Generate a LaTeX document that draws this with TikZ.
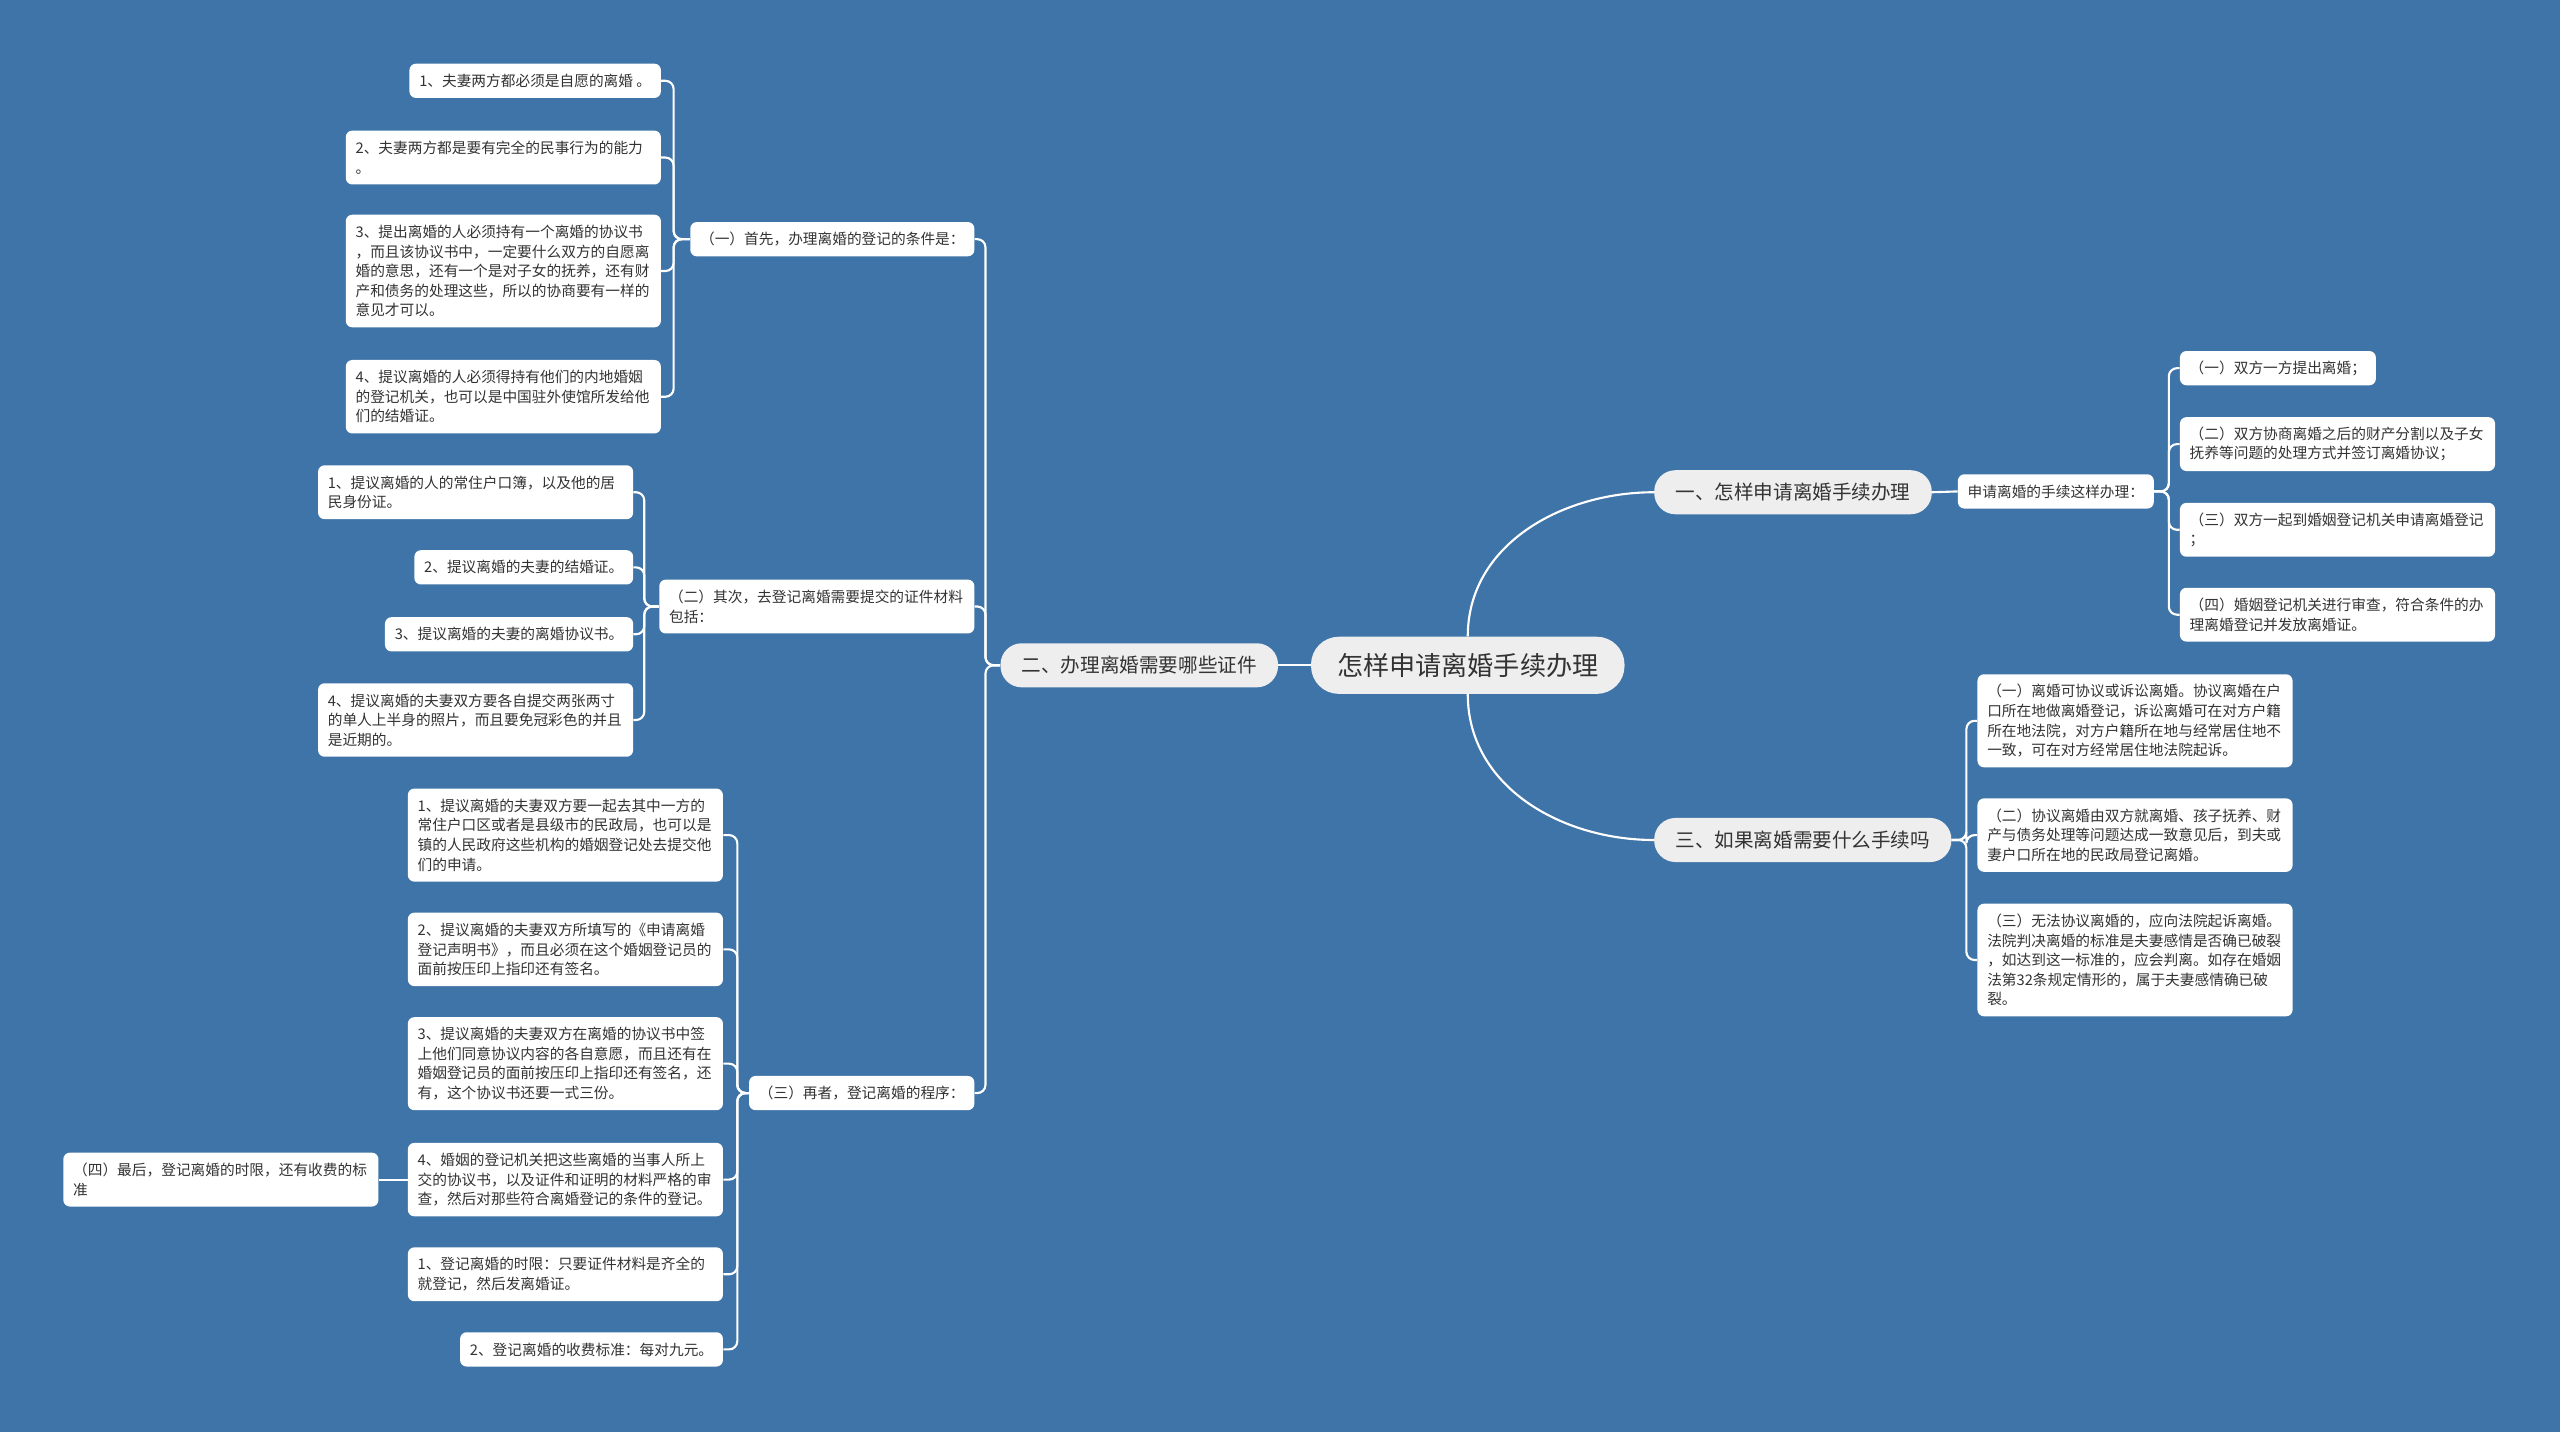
\documentclass[tikz,border=0pt]{standalone}
\usepackage{fontspec}
\setmainfont{Noto Sans CJK SC}
\usepackage{tikz}
\usetikzlibrary{positioning,calc}
\definecolor{MapBlue}{HTML}{3F74A8}
\definecolor{TopicGray}{HTML}{EEEEEE}
\definecolor{DarkText}{HTML}{333333}

\begin{document}
\begin{tikzpicture}[x=1pt,y=-1pt,
  root/.style={fill=TopicGray,rounded corners=17pt,minimum height=35pt,inner xsep=16pt,text=DarkText,font=\fontsize{16}{19}\selectfont},
  topic/.style={fill=TopicGray,rounded corners=13pt,minimum height=27pt,inner xsep=13pt,text=DarkText,font=\fontsize{12}{14}\selectfont},
  item/.style={fill=white,rounded corners=4pt,align=left,inner xsep=6pt,inner ysep=3pt,minimum height=21pt,text=DarkText,font=\fontsize{9}{12}\selectfont},
  textlines/.style={minimum height=12*#1+9,text width=181pt},
  link/.style={white,line width=1.3pt,rounded corners=5pt}
]
\fill[MapBlue] (0,0) rectangle (1568,877);
\useasboundingbox (0,0) rectangle (1568,877);

% centre and main branches
\node[root] (root) at (899,407.5) {怎样申请离婚手续办理};
\node[topic,anchor=east] (docs) at (783,407.5) {二、办理离婚需要哪些证件};
\node[topic,anchor=west] (apply) at (1013,301.5) {一、怎样申请离婚手续办理};
\node[topic,anchor=west] (need) at (1013,514.5) {三、如果离婚需要什么手续吗};

% left side
\node[item,anchor=east] (cond) at (597,146.5) {（一）首先，办理离婚的登记的条件是：};
\node[item,anchor=east,textlines=2] (mat) at (597,371.5) {（二）其次，去登记离婚需要提交的证件材料\\包括：};
\node[item,anchor=east] (proc) at (597,669.5) {（三）再者，登记离婚的程序：};

\node[item,anchor=east] (cond1) at (405,49.5) {1、夫妻两方都必须是自愿的离婚 。};
\node[item,anchor=east,textlines=2] (cond2) at (405,96.5) {2、夫妻两方都是要有完全的民事行为的能力\\。};
\node[item,anchor=east,textlines=5] (cond3) at (405,166) {3、提出离婚的人必须持有一个离婚的协议书\\，而且该协议书中，一定要什么双方的自愿离\\婚的意思，还有一个是对子女的抚养，还有财\\产和债务的处理这些，所以的协商要有一样的\\意见才可以。};
\node[item,anchor=east,textlines=3] (cond4) at (405,243) {4、提议离婚的人必须得持有他们的内地婚姻\\的登记机关，也可以是中国驻外使馆所发给他\\们的结婚证。};

\node[item,anchor=east,textlines=2] (mat1) at (388,301.5) {1、提议离婚的人的常住户口簿，以及他的居\\民身份证。};
\node[item,anchor=east] (mat2) at (388,347.5) {2、提议离婚的夫妻的结婚证。};
\node[item,anchor=east] (mat3) at (388,388.5) {3、提议离婚的夫妻的离婚协议书。};
\node[item,anchor=east,textlines=3] (mat4) at (388,441) {4、提议离婚的夫妻双方要各自提交两张两寸\\的单人上半身的照片，而且要免冠彩色的并且\\是近期的。};

\node[item,anchor=east,textlines=4] (proc1) at (443,511.5) {1、提议离婚的夫妻双方要一起去其中一方的\\常住户口区或者是县级市的民政局，也可以是\\镇的人民政府这些机构的婚姻登记处去提交他\\们的申请。};
\node[item,anchor=east,textlines=3] (proc2) at (443,581.5) {2、提议离婚的夫妻双方所填写的《申请离婚\\登记声明书》，而且必须在这个婚姻登记员的\\面前按压印上指印还有签名。};
\node[item,anchor=east,textlines=4] (proc3) at (443,651.5) {3、提议离婚的夫妻双方在离婚的协议书中签\\上他们同意协议内容的各自意愿，而且还有在\\婚姻登记员的面前按压印上指印还有签名，还\\有，这个协议书还要一式三份。};
\node[item,anchor=east,textlines=3] (proc4) at (443,722.5) {4、婚姻的登记机关把这些离婚的当事人所上\\交的协议书，以及证件和证明的材料严格的审\\查，然后对那些符合离婚登记的条件的登记。};
\node[item,anchor=east,textlines=2] (proc5) at (443,780.5) {1、登记离婚的时限：只要证件材料是齐全的\\就登记，然后发离婚证。};
\node[item,anchor=east] (proc6) at (443,826.5) {2、登记离婚的收费标准：每对九元。};
\node[item,anchor=east,textlines=2] (limit) at (232,722.5) {（四）最后，登记离婚的时限，还有收费的标\\准};

% right side
\node[item,anchor=west] (how) at (1199,301) {申请离婚的手续这样办理：};
\node[item,anchor=west] (how1) at (1335,225.5) {（一）双方一方提出离婚；};
\node[item,anchor=west,textlines=2] (how2) at (1335,272) {（二）双方协商离婚之后的财产分割以及子女\\抚养等问题的处理方式并签订离婚协议；};
\node[item,anchor=west,textlines=2] (how3) at (1335,324.5) {（三）双方一起到婚姻登记机关申请离婚登记\\；};
\node[item,anchor=west,textlines=2] (how4) at (1335,376.5) {（四）婚姻登记机关进行审查，符合条件的办\\理离婚登记并发放离婚证。};

\node[item,anchor=west,textlines=4] (sue1) at (1211,441.5) {（一）离婚可协议或诉讼离婚。协议离婚在户\\口所在地做离婚登记，诉讼离婚可在对方户籍\\所在地法院，对方户籍所在地与经常居住地不\\一致，可在对方经常居住地法院起诉。};
\node[item,anchor=west,textlines=3] (sue2) at (1211,511.5) {（二）协议离婚由双方就离婚、孩子抚养、财\\产与债务处理等问题达成一致意见后，到夫或\\妻户口所在地的民政局登记离婚。};
\node[item,anchor=west,textlines=5] (sue3) at (1211,588) {（三）无法协议离婚的，应向法院起诉离婚。\\法院判决离婚的标准是夫妻感情是否确已破裂\\，如达到这一标准的，应会判离。如存在婚姻\\法第32条规定情形的，属于夫妻感情确已破\\裂。};

% connectors
\draw[link] (root.west) -- (docs.east);
\draw[link] (root.north) to[out=90,in=180] (apply.west);
\draw[link] (root.south) to[out=-90,in=180] (need.west);
\foreach \c in {cond,mat,proc} \draw[link] (docs.west) -- ++(-9,0) |- (\c.east);
\foreach \i in {1,...,4} \draw[link] (cond.west) -- ++(-10,0) |- (cond\i.east);
\foreach \i in {1,...,4} \draw[link] (mat.west) -- ++(-9,0) |- (mat\i.east);
\foreach \i in {1,...,6} \draw[link] (proc.west) -- ++(-7,0) |- (proc\i.east);
\draw[link] (proc4.west) -- (limit.east);
\draw[link] (apply.east) -- (how.west);
\foreach \i in {1,...,4} \draw[link] (how.east) -- ++(9,0) |- (how\i.west);
\foreach \i in {1,...,3} \draw[link] (need.east) -- ++(9,0) |- (sue\i.west);
\end{tikzpicture}
\end{document}
